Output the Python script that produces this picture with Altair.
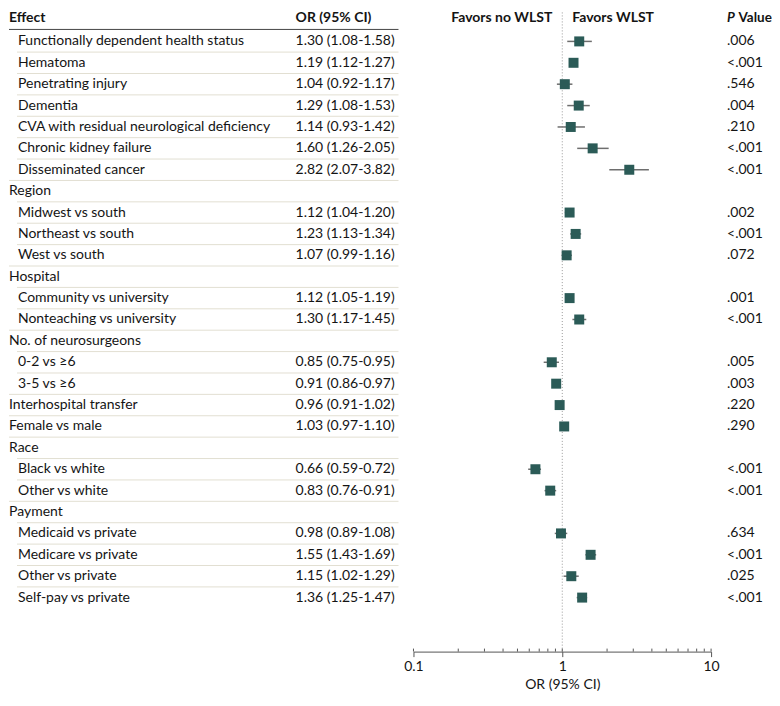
import altair as alt
import pandas as pd

effects = ["Functionally dependent health status", "Hematoma", "Penetrating injury", "Dementia",
           "CVA with residual neurological deficiency", "Chronic kidney failure", "Disseminated cancer",
           "Region", "Midwest vs south", "Northeast vs south", "West vs south",
           "Hospital", "Community vs university", "Nonteaching vs university",
           "No. of neurosurgeons", "0-2 vs ≥6", "3-5 vs ≥6",
           "Interhospital transfer", "Female vs male",
           "Race", "Black vs white", "Other vs white",
           "Payment", "Medicaid vs private", "Medicare vs private", "Other vs private", "Self-pay vs private"]
indent = [1, 1, 1, 1, 1, 1, 1, 0, 1, 1, 1, 0, 1, 1, 0, 1, 1, 0, 0, 0, 1, 1, 0, 1, 1, 1, 1]
odds = [1.30, 1.19, 1.04, 1.29, 1.14, 1.60, 2.82, None, 1.12, 1.23, 1.07, None, 1.12, 1.30, None,
        0.85, 0.91, 0.96, 1.03, None, 0.66, 0.83, None, 0.98, 1.55, 1.15, 1.36]
lower = [1.08, 1.12, 0.92, 1.08, 0.93, 1.26, 2.07, None, 1.04, 1.13, 0.99, None, 1.05, 1.17, None,
         0.75, 0.86, 0.91, 0.97, None, 0.59, 0.76, None, 0.89, 1.43, 1.02, 1.25]
upper = [1.58, 1.27, 1.17, 1.53, 1.42, 2.05, 3.82, None, 1.20, 1.34, 1.16, None, 1.19, 1.45, None,
         0.95, 0.97, 1.02, 1.10, None, 0.72, 0.91, None, 1.08, 1.69, 1.29, 1.47]
pvals = [".006", "<.001", ".546", ".004", ".210", "<.001", "<.001", "", ".002", "<.001", ".072", "",
         ".001", "<.001", "", ".005", ".003", ".220", ".290", "", "<.001", "<.001", "", ".634", "<.001",
         ".025", "<.001"]
major_ticks = [0.1, 1, 10]
minor_ticks = [0.2, 0.3, 0.4, 0.5, 0.6, 0.7, 0.8, 0.9, 2, 3, 4, 5, 6, 7, 8, 9]

FONT = "Lato"
FS = 14
H = 644
TABLE_W = 390
GAP1 = 15
FOREST_W = 298
GAP2 = 16
P_W = 45
HEADER_R = -0.08
HEADER_LINE_R = 0.44

n = len(effects)
ci_text = []
for o, l, h in zip(odds, lower, upper):
    ci_text.append(f"{o:.2f} ({l:.2f}-{h:.2f})" if o is not None else "")

rows = pd.DataFrame({
    "r": list(range(1, n + 1)),
    "effect": effects,
    "indent": indent,
    "or": odds,
    "lo": lower,
    "hi": upper,
    "p": pvals,
    "ci": ci_text,
})
est = rows.dropna(subset=["or"])

sep = pd.DataFrame({
    "r": [i + 0.5 for i in range(1, n)],
    "next_indent": [indent[i] for i in range(1, n)],
})

yscale = alt.Scale(domain=[-0.5406, 29.525], reverse=True, nice=False, zero=False)
Y = alt.Y("r:Q", scale=yscale, axis=None)

base = alt.Chart(rows)
TXT = dict(baseline="middle", font=FONT, fontSize=FS, color="#141414")

# ---------- table panel ----------
txt_group = base.transform_filter("datum.indent == 0").mark_text(align="left", **TXT).encode(
    x=alt.value(0), y=Y, text="effect:N")
txt_child = base.transform_filter("datum.indent == 1").mark_text(align="left", **TXT).encode(
    x=alt.value(9), y=Y, text="effect:N")
txt_ci = base.mark_text(align="left", **TXT).encode(x=alt.value(287), y=Y, text="ci:N")

hdr = pd.DataFrame({"r": [HEADER_R]})
hdr_effect = alt.Chart(hdr).mark_text(align="left", fontWeight="bold", text="Effect", **TXT).encode(
    x=alt.value(0), y=Y)
hdr_or = alt.Chart(hdr).mark_text(align="left", fontWeight="bold", text="OR (95% CI)", **TXT).encode(
    x=alt.value(287), y=Y)
hdr_line = alt.Chart(pd.DataFrame({"r": [HEADER_LINE_R]})).mark_rule(color="#444", strokeWidth=1).encode(
    x=alt.value(0), x2=alt.value(TABLE_W), y=Y)

sep_full = alt.Chart(sep).transform_filter("datum.next_indent == 0").mark_rule(
    color="#e2dfd2", strokeWidth=1).encode(x=alt.value(0), x2=alt.value(TABLE_W), y=Y)
sep_ind = alt.Chart(sep).transform_filter("datum.next_indent == 1").mark_rule(
    color="#e2dfd2", strokeWidth=1).encode(x=alt.value(8), x2=alt.value(TABLE_W), y=Y)

table = alt.layer(sep_full, sep_ind, hdr_line, txt_group, txt_child, txt_ci, hdr_effect, hdr_or).properties(
    width=TABLE_W, height=H)

# ---------- forest panel ----------
xscale = alt.Scale(type="log", domain=[0.1, 10], nice=False)
xaxis = alt.Axis(values=major_ticks, format="~g", tickSize=5, tickColor="#555", domainColor="#555",
                 labelFont=FONT, labelFontSize=FS, labelColor="#141414", labelFlush=False, labelPadding=3,
                 title="OR (95% CI)", titleFont=FONT, titleFontSize=FS, titleFontWeight="normal",
                 titleColor="#141414", titlePadding=4, grid=False)

ref = alt.Chart(pd.DataFrame({"v": [1]})).mark_rule(color="#9a9a9a", strokeDash=[1, 2], strokeWidth=1).encode(
    x=alt.X("v:Q", scale=xscale, axis=xaxis), y=alt.value(4), y2=alt.value(H))
minor = alt.Chart(pd.DataFrame({"v": major_ticks + minor_ticks})).mark_rule(color="#555", strokeWidth=1).encode(
    x=alt.X("v:Q", scale=xscale, axis=xaxis), y=alt.value(H - 3), y2=alt.value(H))
ci = alt.Chart(est).mark_rule(color="#6e6e6e", strokeWidth=1.5).encode(
    x=alt.X("lo:Q", scale=xscale, axis=xaxis), x2="hi:Q", y=Y)
sq = alt.Chart(est).mark_square(size=100, filled=True, color="#2b5b57", opacity=1).encode(
    x=alt.X("or:Q", scale=xscale, axis=xaxis), y=Y)
fav_no = alt.Chart(hdr).mark_text(align="right", fontWeight="bold", text="Favors no WLST", **TXT).encode(
    x=alt.value(FOREST_W / 2 - 10), y=Y)
fav_yes = alt.Chart(hdr).mark_text(align="left", fontWeight="bold", text="Favors WLST", **TXT).encode(
    x=alt.value(FOREST_W / 2 + 10), y=Y)

forest = alt.layer(ref, minor, ci, sq, fav_no, fav_yes).properties(width=FOREST_W, height=H)

# ---------- p value panel ----------
p_txt = base.mark_text(align="left", **TXT).encode(x=alt.value(0), y=Y, text="p:N")
PH = dict(baseline="middle", font=FONT, fontSize=13.5, color="#141414", fontWeight="bold")
p_hdr1 = alt.Chart(hdr).mark_text(align="left", fontStyle="italic", text="P", **PH).encode(
    x=alt.value(0), y=Y)
p_hdr2 = alt.Chart(hdr).mark_text(align="left", text="Value", **PH).encode(
    x=alt.value(11.5), y=Y)
pcol = alt.layer(p_txt, p_hdr1, p_hdr2).properties(width=P_W, height=H)

spacer1 = alt.Chart(pd.DataFrame({"r": [0]})).mark_point(opacity=0).encode(y=Y).properties(width=GAP1, height=H)
spacer2 = alt.Chart(pd.DataFrame({"r": [0]})).mark_point(opacity=0).encode(y=Y).properties(width=GAP2, height=H)

chart = alt.hconcat(table, spacer1, forest, spacer2, pcol, bounds="flush", spacing=0).properties(padding=0)
chart = chart.configure_view(strokeWidth=0)

chart.save("out.html", embed_options={"renderer": "svg", "actions": False})
